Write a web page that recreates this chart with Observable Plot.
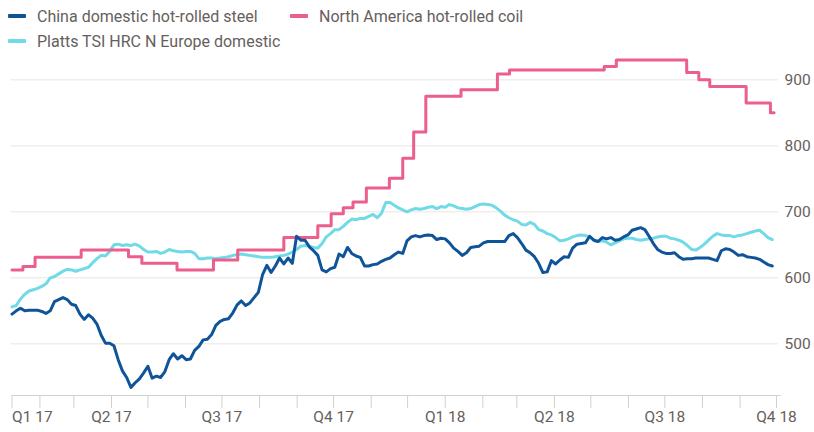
<!DOCTYPE html>
<html><head><meta charset="utf-8">
<script src="https://cdn.jsdelivr.net/npm/d3@7"></script>
<script src="https://cdn.jsdelivr.net/npm/@observablehq/plot@0.6"></script>
<style>
body{margin:0;background:#fff;font-family:Roboto, sans-serif;}
#legend{position:relative;height:52px;width:814px;color:#66605c;font-size:16px;}
.item{position:absolute;height:20px;display:flex;align-items:center;white-space:nowrap;}
.sw{width:18px;height:4px;margin-right:11px;border-radius:1px}
#chart svg{display:block}
</style></head><body>
<div id="legend"></div><div id="chart"></div>
<script>
// Half-weekly series (every 3.5 days) starting on this date
const startDate = "2017-01-09";
const endDate = "2018-10-01";
const stepHours = 84;
const china = [545,550,554,550,551,551,551,549,546,550,
 564,567,570,567,560,558,545,537,544,539,
 530,513,501,501,497,476,459,449,434,441,
 447,456,466,448,451,449,458,476,485,477,
 482,476,477,490,496,506,507,514,528,534,
 537,538,547,559,565,558,562,570,578,605,
 619,608,618,630,621,630,622,663,657,657,
 647,641,634,612,609,614,616,636,632,646,
 637,633,631,618,618,620,621,625,628,630,
 635,639,637,656,662,664,662,664,665,664,
 658,660,659,653,645,640,634,638,646,647,
 648,653,655,655,655,655,655,664,667,661,
 652,642,638,632,622,608,609,626,621,627,
 632,631,645,651,652,653,663,657,655,661,
 659,661,657,658,662,665,672,674,676,673,
 663,652,643,639,637,637,638,632,628,629,
 629,630,630,630,630,628,626,641,644,643,
 639,634,635,632,631,630,628,624,620,618];
const platts = [556,558,568,575,580,582,584,587,591,600,
 602,606,610,613,612,610,612,614,616,623,
 629,634,633,640,650,651,649,650,649,651,
 648,643,639,639,640,637,639,643,641,640,
 639,640,640,637,629,629,630,630,629,630,
 631,632,634,635,636,635,634,633,632,631,
 631,631,632,633,634,636,639,643,648,649,
 648,646,645,652,662,667,673,673,678,684,
 689,688,690,690,693,696,691,698,714,714,
 710,706,703,700,703,705,704,705,707,708,
 705,708,707,711,709,706,705,704,705,708,
 711,712,711,710,706,701,695,691,688,686,
 681,680,684,681,673,671,667,665,661,656,
 657,659,662,664,665,664,662,657,655,656,
 654,650,653,656,659,660,660,658,657,658,
 659,660,662,663,663,660,659,657,654,649,
 643,642,646,651,657,663,667,665,664,664,
 662,664,665,667,669,671,672,667,661,658];
// North America: price change dates (step series)
const naDates = ["2017-01-09","2017-01-18","2017-01-28","2017-03-07","2017-04-15","2017-04-26","2017-05-25","2017-06-24","2017-07-14","2017-08-21","2017-09-18","2017-09-29","2017-10-09","2017-10-17","2017-10-28","2017-11-16","2017-11-27","2017-12-06","2017-12-16","2018-01-14","2018-02-13","2018-02-23","2018-05-12","2018-05-22","2018-07-19","2018-07-29","2018-08-07","2018-09-06","2018-09-26","2018-09-29"];
const naValues = [612,617,631,642,632,622,612,627,642,661,679,697,706,715,736,751,781,821,875,885,909,915,920,930,911,900,890,865,850,850];

const yTicks = [500,600,700,800,900];
const yDomain = [421.7, 941.4];
const quarterDates = ["2017-01-09","2017-04-01","2017-07-01","2017-10-01","2018-01-01","2018-04-01","2018-07-01","2018-10-01"];
const quarterLabels = ["Q1 17","Q2 17","Q3 17","Q4 17","Q1 18","Q2 18","Q3 18","Q4 18"];
const seriesNames = ["China domestic hot-rolled steel","North America hot-rolled coil","Platts TSI HRC N Europe domestic"];
const colors = ["#0f5499","#eb5e8d","#70dae6"];

// legend
const legendPos = [[8,6],[290,6],[8,31]];
const leg = document.getElementById("legend");
seriesNames.forEach((n,i)=>{
  const d = document.createElement("div");
  d.className="item"; d.style.left=legendPos[i][0]+"px"; d.style.top=legendPos[i][1]+"px";
  d.innerHTML=`<span class="sw" style="background:${colors[i]}"></span><span>${n}</span>`;
  leg.appendChild(d);
});

const parse = s => new Date(s + "T00:00:00Z");
const times = china.map((_, i) => d3.utcHour.offset(parse(startDate), stepHours*i));
const chinaData = china.map((v,i)=>({date:times[i], value:v}));
const plattsData = platts.map((v,i)=>({date:times[i], value:v}));
const naData = naValues.map((v,i)=>({date:parse(naDates[i]), value:v}));
const quarters = quarterDates.map((d,i)=>({date:parse(d), label:quarterLabels[i]}));
const monthTicks = [parse(startDate), ...d3.utcMonth.range(parse("2017-02-01"), d3.utcDay.offset(parse(endDate),1))];

const chart = Plot.plot({
  width: 814, height: 380,
  marginLeft: 11.5, marginRight: 38, marginTop: 0, marginBottom: 37,
  x: {type: "utc", domain: [parse(startDate), parse(endDate)]},
  y: {domain: yDomain},
  style: {fontFamily: "Roboto, sans-serif", fontSize: "15px", color: "#66605c", background: "white", overflow: "visible"},
  marks: [
    Plot.ruleY(yTicks, {stroke: "#ebe5df", strokeWidth: 1, insetLeft: -1, insetRight: -2}),
    Plot.axisY({anchor: "right", ticks: yTicks, tickSize: 0, tickPadding: 8, label: null, fontSize: 15.5, fill: "#66605c"}),
    Plot.ruleY([yDomain[0]], {stroke: "#d6d0ca", strokeWidth: 1, insetRight: -5}),
    Plot.axisX({ticks: monthTicks, tickSize: 13, tickFormat: () => "", stroke: "#d6d0ca", label: null}),
    Plot.text(quarters.slice(0,1), {x: "date", text: "label", frameAnchor: "bottom", dy: 26, textAnchor: "start", fill: "#66605c", fontSize: 15.5}),
    Plot.text(quarters.slice(1), {x: "date", text: "label", frameAnchor: "bottom", dy: 26, textAnchor: "middle", fill: "#66605c", fontSize: 15.5}),
    Plot.line(plattsData, {x: "date", y: "value", stroke: colors[2], strokeWidth: 3}),
    Plot.line(naData, {x: "date", y: "value", stroke: colors[1], strokeWidth: 3, curve: "step-after"}),
    Plot.line(chinaData, {x: "date", y: "value", stroke: colors[0], strokeWidth: 3})
  ]
});
document.getElementById("chart").appendChild(chart);
</script>
</body></html>
